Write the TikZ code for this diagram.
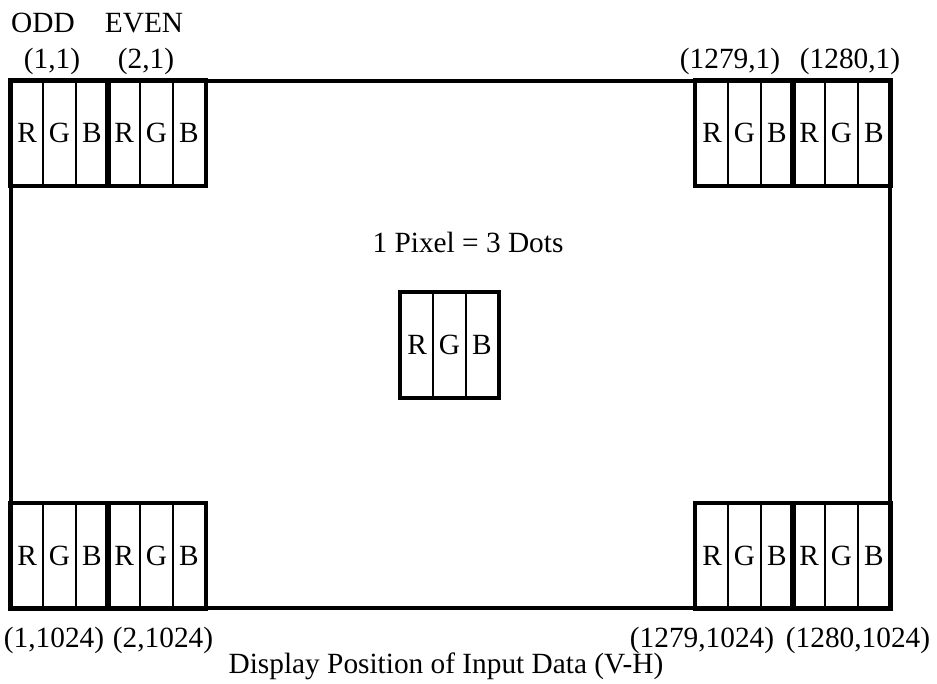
\documentclass[tikz,border=0pt]{standalone}
\usepackage{fontspec}
\setmainfont{Liberation Serif}
\usepackage{tikz}
\usetikzlibrary{positioning}

\begin{document}
\begin{tikzpicture}[x=0.75pt,y=-0.75pt,
    every node/.style={font=\fontsize{22}{25}\selectfont},
    cellbox/.style={draw,line width=1.3pt,minimum width=24.25pt,minimum height=78pt,inner sep=0pt},
    pixelframe/.style={line width=3pt}]
		\useasboundingbox (0,0) rectangle (937,684);
		% outer frame of the panel
		\draw[pixelframe] (11,81) rectangle (890,608);
		% pixel blocks, R G B dots each
		\foreach \bx/\by/\nm in {11/81/tla, 108/81/tlb, 696/81/tra, 793/81/trb, 401/293/mid,
		                         11/504/bla, 108/504/blb, 696/504/bra, 793/504/brb}{
			\foreach \c/\k in {R/0,G/1,B/2}
				\node[cellbox] (\nm\c) at ({\bx+32.33*\k+16.17},{\by+52}) {\c};
			\draw[pixelframe] (\nm R.north west) rectangle (\nm B.south east);
		}
		\node (odd) at (43,23) {ODD};
		\node (even) at (144,23) {EVEN};
		\node (p11) at (52,61) {(1,1)};
		\node (p21) at (146,61) {(2,1)};
		\node (p12791) at (730,61) {(1279,1)};
		\node (p12801) at (850,61) {(1280,1)};
		\node (ratio) at (468,242) {1 Pixel = 3 Dots};
		\node (p11024) at (54,640) {(1,1024)};
		\node (p21024) at (163,640) {(2,1024)};
		\node (p12791024) at (702,640) {(1279,1024)};
		\node (p12801024) at (858,640) {(1280,1024)};
		\node (caption) at (446,666) {Display Position of Input Data (V-H)};
\end{tikzpicture}
\end{document}
